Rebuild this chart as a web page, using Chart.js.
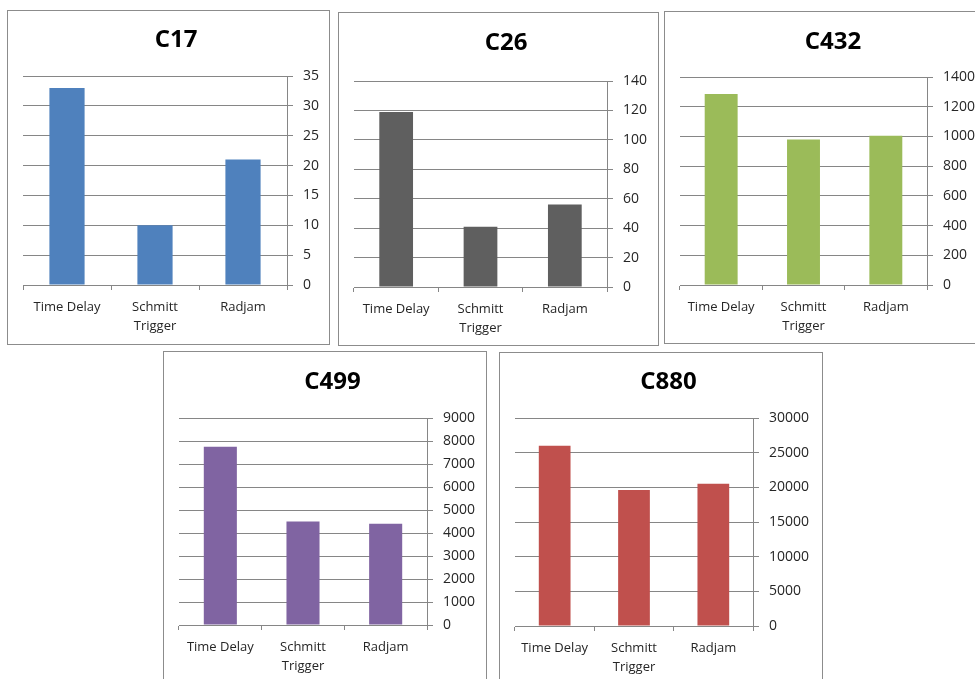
<!DOCTYPE html>
<html>
<head>
<meta charset="utf-8">
<script src="https://cdn.jsdelivr.net/npm/chart.js@4"></script>
<style>
  html, body { margin: 0; padding: 0; background: #fff; }
  body { width: 975px; height: 679px; overflow: hidden; position: relative; }
  .panel { position: absolute; box-sizing: border-box; border: 1px solid #8c8c8c; background: #fff; }
  .panel canvas { display: block; }
</style>
</head>
<body>
<div id="charts"></div>
<script>
// datos de los circuitos
const categorias = ['Time Delay', ['Schmitt', 'Trigger'], 'Radjam'];
const titulos = ['C17', 'C26', 'C432', 'C499', 'C880'];
const valoresC17 = [33, 10, 21];
const valoresC26 = [119, 41, 56];
const valoresC432 = [1285, 980, 1005];
const valoresC499 = [7750, 4500, 4400];
const valoresC880 = [26000, 19600, 20500];
const maximos = [35, 140, 1400, 9000, 30000];
const pasos = [5, 20, 200, 1000, 5000];

const series = [valoresC17, valoresC26, valoresC432, valoresC499, valoresC880];
const colores = ['#4F81BD', '#5F5F5F', '#9BBB59', '#8064A2', '#C0504D'];

// ubicacion de cada recuadro en la pagina (x, y, ancho, alto) y de su area de grafico
const cajas = [
  { x: 7,   y: 10,  w: 323, h: 335, izq: 23,  der: 287, arriba: 76,  cero: 285, tituloY: 40 },
  { x: 338, y: 12,  w: 321, h: 334, izq: 354, der: 607, arriba: 81,  cero: 287, tituloY: 43 },
  { x: 664, y: 11,  w: 323, h: 333, izq: 680, der: 927, arriba: 77,  cero: 285, tituloY: 42 },
  { x: 163, y: 351, w: 324, h: 336, izq: 179, der: 427, arriba: 418, cero: 625, tituloY: 382 },
  { x: 499, y: 352, w: 324, h: 336, izq: 515, der: 753, arriba: 418, cero: 626, tituloY: 382 }
];

const fuente = "'Open Sans', 'Noto Sans', sans-serif";
const colorTexto = '#262626';
const colorLinea = '#868686';
const TAM_TITULO = 24;

const contenedor = document.getElementById('charts');

cajas.forEach((c, i) => {
  let div = document.createElement('div');
  div.className = 'panel';
  div.style.left = c.x + 'px';
  div.style.top = c.y + 'px';
  div.style.width = c.w + 'px';
  div.style.height = c.h + 'px';
  let canvas = document.createElement('canvas');
  let anchoInt = c.w - 2, altoInt = c.h - 2;
  canvas.width = anchoInt;
  canvas.height = altoInt;
  div.appendChild(canvas);
  contenedor.appendChild(div);

  let x0 = c.x + 1, y0 = c.y + 1;
  let altoLinea = TAM_TITULO * 1.2;
  let padTop = c.tituloY - y0 - altoLinea / 2;
  let padBottom = c.arriba - y0 - padTop - altoLinea;

  new Chart(canvas.getContext('2d'), {
    type: 'bar',
    data: {
      labels: categorias,
      datasets: [{
        data: series[i],
        backgroundColor: colores[i],
        borderWidth: 0,
        barPercentage: 0.4,
        categoryPercentage: 1
      }]
    },
    options: {
      responsive: false,
      animation: false,
      devicePixelRatio: 1,
      layout: { padding: { left: c.izq - x0, right: 0, top: 0, bottom: 0 } },
      plugins: {
        legend: { display: false },
        tooltip: { enabled: false },
        title: {
          display: true,
          text: titulos[i],
          color: '#000',
          font: { family: fuente, size: TAM_TITULO, weight: 'bold' },
          padding: { top: padTop, bottom: padBottom }
        }
      },
      scales: {
        x: {
          grid: { display: true, drawOnChartArea: false, drawTicks: true, tickLength: 5, color: colorLinea, offset: true },
          border: { display: true, color: colorLinea },
          ticks: { color: colorTexto, padding: 8, maxRotation: 0, font: { family: fuente, size: 13, lineHeight: 1.45 } },
          afterFit: (scale) => { scale.height = y0 + altoInt - c.cero; }
        },
        y: {
          position: 'right',
          min: 0,
          max: maximos[i],
          ticks: {
            stepSize: pasos[i],
            color: colorTexto,
            padding: 10,
            font: { family: fuente, size: 14 },
            callback: (v) => String(v)
          },
          grid: { color: colorLinea, tickLength: 6 },
          border: { display: true, color: colorLinea },
          afterFit: (scale) => { scale.width = x0 + anchoInt - c.der; }
        }
      }
    }
  });
});
</script>
</body>
</html>
